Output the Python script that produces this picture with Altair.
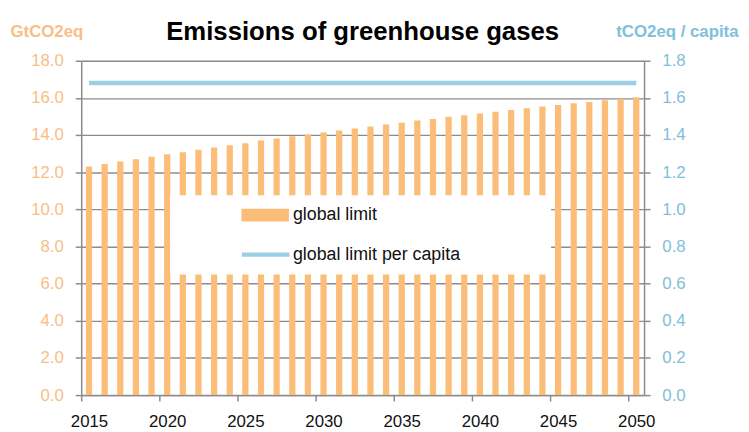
import altair as alt
import pandas as pd

# ---- data ----
years = list(range(2015, 2051))
global_limit = [12.30, 12.44, 12.57, 12.69, 12.83, 12.96, 13.08, 13.21, 13.33, 13.45,
                13.56, 13.70, 13.81, 13.93, 14.03, 14.14, 14.25, 14.35, 14.46, 14.57,
                14.66, 14.78, 14.87, 14.98, 15.07, 15.16, 15.26, 15.35, 15.44, 15.53,
                15.62, 15.71, 15.78, 15.87, 15.96, 16.04]
per_capita = [1.68, 1.68, 1.68, 1.68, 1.68, 1.68, 1.68, 1.68, 1.68, 1.68,
              1.68, 1.68, 1.68, 1.68, 1.68, 1.68, 1.68, 1.68, 1.68, 1.68,
              1.68, 1.68, 1.68, 1.68, 1.68, 1.68, 1.68, 1.68, 1.68, 1.68,
              1.68, 1.68, 1.68, 1.68, 1.68, 1.68]
x_ticks = [2015, 2020, 2025, 2030, 2035, 2040, 2045, 2050]
left_ticks = [0, 2, 4, 6, 8, 10, 12, 14, 16, 18]
right_ticks = [0.0, 0.2, 0.4, 0.6, 0.8, 1.0, 1.2, 1.4, 1.6, 1.8]
series_bar = "global limit"
series_line = "global limit per capita"

df = pd.DataFrame({"year": years, "gl": global_limit, "pc": per_capita,
                   "s_bar": series_bar, "s_line": series_line})

FONT = "Liberation Sans, Arial, Helvetica, sans-serif"
ORANGE = "#FCBD78"
ORANGE_TXT = "#F9BE86"
BLUE = "#9CCEE4"
BLUE_TXT = "#80C0DA"
GRID = "#8C8C8C"

PW, PH = 569, 338

base = alt.Chart(df).transform_calculate(xc="datum.year + 0.5")

x_enc = alt.X(
    "xc:Q",
    scale=alt.Scale(domain=[2015, 2051], nice=False, zero=False, padding=0),
    axis=alt.Axis(
        values=x_ticks, format="d", title=None, grid=False,
        labelOffset=PW / 36 / 2, labelFlush=False, labelOverlap=False,
        labelFont=FONT, labelFontSize=17, labelColor="#111111", labelPadding=13,
        tickSize=6, tickColor=GRID, tickWidth=1.5,
        domainColor=GRID, domainWidth=1.5,
    ),
)

# white box legend holding both labels (second symbol drawn white, the blue
# stroke symbol comes from the line's own legend drawn on top)
bars = base.mark_bar(width=6.3).encode(
    x=x_enc,
    y=alt.Y(
        "gl:Q",
        scale=alt.Scale(domain=[0, 18], nice=False, padding=0),
        axis=alt.Axis(
            values=left_ticks, format=".1f",
            title="GtCO2eq", titleAngle=0, titleAlign="left", titleBaseline="alphabetic",
            titleX=-72, titleY=-25, titleColor=ORANGE_TXT, titleFont=FONT,
            titleFontSize=17, titleFontWeight="bold",
            labelFont=FONT, labelFontSize=17, labelColor=ORANGE_TXT, labelPadding=12,
            tickSize=6, tickColor=GRID, tickWidth=1.5,
            domainColor=GRID, domainWidth=1.5,
            grid=True, gridColor=GRID, gridWidth=1.4,
        ),
    ),
    color=alt.Color(
        "s_bar:N",
        scale=alt.Scale(domain=[series_bar, series_line], range=[ORANGE, "#FFFFFF"]),
        legend=alt.Legend(
            orient="none", legendX=90, legendY=136, fillColor="white", padding=10,
            symbolType="M-1,-0.27H1V0.27H-1Z", symbolSize=2304, symbolStrokeWidth=0,
            symbolOffset=62, clipHeight=20, rowPadding=20, symbolOpacity=1,
            labelFont=FONT, labelFontSize=18, labelColor="#111111", labelOffset=4,
            labelLimit=400,
            title=".", titleOrient="right", titleOpacity=0, titleFontSize=18,
            titleFont=FONT, titlePadding=76, titleLimit=600, zindex=0,
        ),
    ),
)

line = base.mark_line(strokeWidth=4.5).encode(
    x=alt.X("xc:Q"),
    y=alt.Y(
        "pc:Q",
        scale=alt.Scale(domain=[0, 1.8], nice=False, padding=0),
        axis=alt.Axis(
            orient="right", values=right_ticks, format=".1f", grid=False,
            title="tCO2eq / capita", titleAngle=0, titleAlign="right",
            titleBaseline="alphabetic", titleX=95, titleY=-25,
            titleColor=BLUE_TXT, titleFont=FONT, titleFontSize=17, titleFontWeight="bold",
            labelFont=FONT, labelFontSize=17, labelColor=BLUE_TXT, labelPadding=12,
            tickSize=6, tickColor=GRID, tickWidth=1.5,
            domainColor=GRID, domainWidth=1.5,
        ),
    ),
    stroke=alt.Stroke(
        "s_line:N",
        scale=alt.Scale(domain=[series_line], range=[BLUE]),
        legend=alt.Legend(
            orient="none", legendX=160, legendY=189, padding=0,
            symbolType="stroke", symbolSize=2304, symbolStrokeWidth=4.5, clipHeight=14,
            labelExpr="''", labelFontSize=1, title=None, zindex=1,
        ),
    ),
)

chart = (
    alt.layer(bars, line)
    .resolve_scale(y="independent", color="independent", stroke="independent")
    .properties(
        width=PW, height=PH,
        autosize=alt.AutoSizeParams(type="none"),
        padding={"left": 74, "top": 51, "right": 98, "bottom": 35},
        title=alt.TitleParams(
            "Emissions of greenhouse gases", font=FONT, fontSize=26, fontWeight="bold",
            color="#000000", anchor="middle", offset=-49.5, baseline="bottom",
        ),
    )
    .configure_view(stroke=None)
    .configure(background="white")
)

chart.save("out.html", embed_options={"renderer": "svg", "actions": False})
